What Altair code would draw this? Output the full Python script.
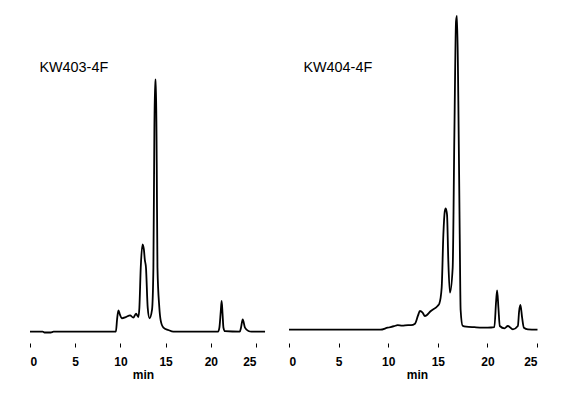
import altair as alt
import pandas as pd

# Chromatogram traces (time in min, detector signal in arbitrary units)
left_time = [0, 1.4, 1.6, 2.3, 2.6, 9.5, 9.63, 9.78, 9.95, 10.15, 10.6, 11.07, 11.43, 11.73, 11.99,
             12.1, 12.25, 12.45, 12.6, 12.7, 12.83, 13.02, 13.22, 13.5, 13.65, 13.76, 13.84, 13.93,
             14.02, 14.1, 14.3, 14.46, 14.76, 15.3, 15.86, 20.8, 20.95, 21.1, 21.2, 21.3, 21.4,
             21.57, 23.2, 23.34, 23.53, 23.78, 24.16, 24.5, 26]
left_signal = [0, 0, -0.8, -0.8, 0, 0, 12, 21.4, 17, 13.4, 14.5, 16.4, 14, 18, 14.7,
               24, 64, 87.4, 82, 72, 64, 24, 13.4, 22, 64, 204, 252, 252,
               167, 64, 25, 11, 4, 1.7, 0, 0, 4, 20, 30.7, 18, 4,
               0.5, 0, 4, 12.4, 4, 0.7, 0, 0]

right_time = [0, 9.2, 9.94, 10.6, 10.95, 11.4, 12.0, 12.3, 12.7, 13.0, 13.2, 13.47, 13.7, 14.3,
              15.0, 15.15, 15.39, 15.56, 15.7, 15.8, 15.93, 16.06, 16.22, 16.5, 16.67, 16.84,
              16.94, 17.07, 17.21, 17.3, 17.5, 17.85, 18.69, 20.04, 20.7, 20.88, 20.98, 21.11,
              21.25, 21.72, 22.06, 22.57, 23.07, 23.2, 23.33, 23.5, 23.68, 24.08, 25.05]
right_signal = [0, 0, 2, 3.5, 4.5, 4, 4.5, 4.5, 6, 14, 18.7, 17, 13.7, 18.7,
                24, 26, 42, 95, 118, 121.4, 115, 68.7, 37, 62, 195, 308.7,
                313.7, 228.7, 95.4, 20, 4, 3, 2.5, 2, 2.5, 28.7, 39.4, 22,
                3.7, 1.4, 3.7, 0.4, 3.7, 18.7, 24.7, 12, 2, 0.3, 0]

tick_values = [0, 5, 10, 15, 20, 25]
sample_names = ["KW403-4F", "KW404-4F"]

FONT = "Liberation Sans"
H = 332


def panel(times, signals, name, width, ydom, label_dx, title_dx):
    df = pd.DataFrame({"t": times, "s": signals})
    line = alt.Chart(df).mark_line(color="black", strokeWidth=1.8, interpolate="monotone",
                                   clip=False).encode(
        x=alt.X("t:Q", scale=alt.Scale(domain=[0, 25], nice=False, zero=False),
                axis=alt.Axis(values=tick_values, title="min", domain=False, grid=False,
                              tickSize=4, tickColor="black", tickWidth=1,
                              labelFont=FONT, labelFontSize=12, labelFontWeight="bold",
                              labelColor="black", labelPadding=9,
                              titleFont=FONT, titleFontSize=12, titleFontWeight="bold",
                              titleColor="black", titlePadding=2, titleX=width / 2 + title_dx)),
        y=alt.Y("s:Q", scale=alt.Scale(domain=ydom, nice=False, zero=False), axis=None),
    )
    txt = alt.Chart(pd.DataFrame({"label": [name]})).mark_text(
        font=FONT, fontSize=14.4, align="left", baseline="alphabetic", color="black"
    ).encode(x=alt.value(label_dx), y=alt.value(60.7), text="label:N")
    return alt.layer(line, txt).properties(width=width, height=H)


left = panel(left_time, left_signal, sample_names[0], 226, [-11.3, H - 11.3], 9.4, 0)
right = panel(right_time, right_signal, sample_names[1], 248, [-13.3, H - 13.3], 14.4, 4)

chart = alt.hconcat(left, right, spacing=14).properties(
    padding={"left": 25, "top": 10, "right": 5, "bottom": 5},
    background="white",
).configure_view(stroke="transparent")

chart.save("out.html", embed_options={"renderer": "svg", "actions": False})
